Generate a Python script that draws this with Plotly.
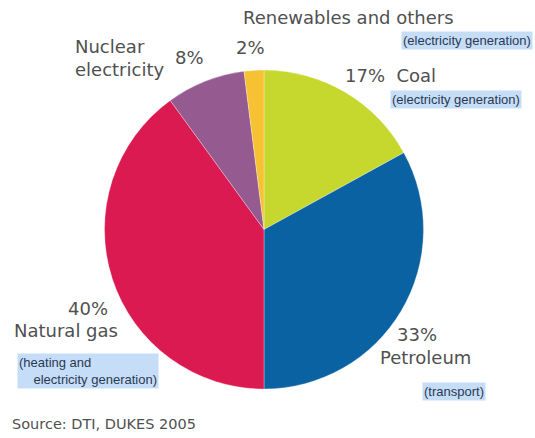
import plotly.graph_objects as go

categories = ["Coal", "Petroleum", "Natural gas", "Nuclear electricity", "Renewables and others"]
shares = [17, 33, 40, 8, 2]
colors = ["#c6d82e", "#0b62a3", "#da1a50", "#955a8f", "#f6c233"]

W, H = 535, 438
fig = go.Figure(go.Pie(
    labels=categories, values=shares, sort=False, direction="clockwise",
    rotation=0, textinfo="none", hoverinfo="label+percent",
    marker=dict(colors=colors, line=dict(color="rgba(255,255,255,0.5)", width=0.6)),
    domain=dict(x=[103 / W, 425 / W], y=[(H - 389) / H, (H - 70) / H]),
    showlegend=False,
))

font_main = "DejaVu Sans, Liberation Sans, sans-serif"
font_note = "Liberation Sans, Arial, sans-serif"
grey = "#505050"
hl = "#c6ddf7"
note_col = "#2a3a55"

def ann(x, y, text, size=18, color=grey, xanchor="left", bg=None, align="left", family=font_main):
    d = dict(x=x / W, y=1 - y / H, xref="paper", yref="paper", text=text,
             showarrow=False, xanchor=xanchor, yanchor="middle", align=align,
             font=dict(family=family, size=size, color=color))
    if bg:
        d.update(bgcolor=bg, borderpad=1)
    return d

def note(x, y, text):
    return ann(x, y, text, size=13, color=note_col, bg=hl, family=font_note)

annotations = [
    ann(241, 18, "Renewables and others"),
    note(401, 40, "(electricity generation)"),
    ann(234, 47, "2%"),
    ann(343, 75, "17%&nbsp;&nbsp;Coal"),
    note(390, 99, "(electricity generation)"),
    ann(73, 58, "Nuclear<br>electricity", align="left"),
    ann(173, 58, "8%"),
    ann(66, 308, "40%"),
    ann(12, 330, "Natural gas"),
    note(17, 371, "(heating and<br>&nbsp;&nbsp;&nbsp;&nbsp;electricity generation)"),
    ann(395, 334, "33%"),
    ann(378, 357, "Petroleum"),
    note(422, 391, "(transport)"),
    ann(10, 424, "Source: DTI, DUKES 2005", size=14.5),
]

fig.update_layout(
    width=W, height=H, margin=dict(l=0, r=0, t=0, b=0),
    paper_bgcolor="white", plot_bgcolor="white",
    annotations=annotations,
)
fig.write_html("out.html")
